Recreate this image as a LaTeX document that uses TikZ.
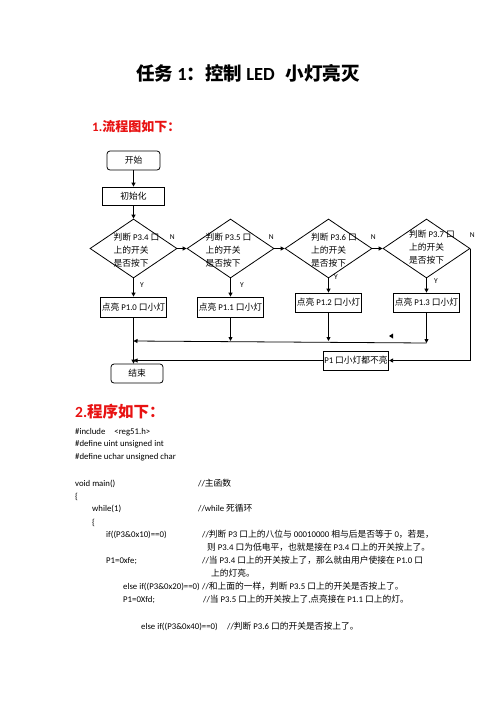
\documentclass[tikz,border=0pt]{standalone}
\usepackage{fontspec}
\setmainfont{Carlito}
\newfontfamily\cjk{Noto Sans CJK SC}
\newfontfamily\latin{Carlito}
% switch to the CJK font for Chinese characters
\XeTeXinterchartokenstate=1
\newXeTeXintercharclass\cjkclass
\newcount\cjkchar
\def\cjkrange#1#2{\cjkchar=#1
  \loop\XeTeXcharclass\cjkchar=\cjkclass
  \ifnum\cjkchar<#2 \advance\cjkchar by 1 \repeat}
\cjkrange{"4E00}{"9FFF}
\cjkrange{"3000}{"303F}
\cjkrange{"FF00}{"FFEF}
\XeTeXinterchartoks 0 \cjkclass = {\cjk}
\XeTeXinterchartoks 4095 \cjkclass = {\cjk}
\XeTeXinterchartoks \cjkclass 0 = {\latin}
\XeTeXinterchartoks \cjkclass 4095 = {\latin}
\usetikzlibrary{shapes.geometric,arrows.meta,calc}
\definecolor{headred}{RGB}{232,18,18}

\begin{document}
\begin{tikzpicture}[x=1pt,y=-1pt,
    fbox/.style={draw, line width=0.8pt, minimum height=19pt, inner sep=1pt, font=\fontsize{8.75}{10}\selectfont},
    rbox/.style={fbox, rounded corners=3pt},
    dia/.style={draw, diamond, line width=0.8pt, minimum width=87pt, minimum height=59pt, inner sep=0pt},
    dtext/.style={align=left, inner sep=0pt, font=\fontsize{8.75}{13}\selectfont},
    lbl/.style={inner sep=0pt, font=\fontsize{7.5}{8}\selectfont},
    arr/.style={-{Triangle[length=4pt,width=4pt]}, line width=0.8pt},
    code/.style={anchor=base west, inner sep=0pt, font=\fontsize{8.75}{10}\selectfont}]
  \useasboundingbox[fill=white] (0,0) rectangle (496,702);

  % Koppen
  \node[anchor=base, inner sep=0pt, font=\bfseries\fontsize{18.5}{20}\selectfont] (title) at (248,80) {任务 1：控制 LED\hspace{11pt}小灯亮灭};
  \node[anchor=base west, inner sep=0pt, text=headred, font=\bfseries\fontsize{13}{15}\selectfont] (head1) at (92,131) {1.流程图如下：};
  \node[anchor=base west, inner sep=0pt, text=headred, font=\bfseries\fontsize{15.5}{17}\selectfont] (head2) at (75,417) {2.程序如下：};

  % Stroomschema: kolom 1
  \node[rbox, minimum width=53pt] (start) at (133.5,160.5) {开始};
  \node[fbox, minimum width=62pt, minimum height=18pt] (init) at (133.5,196) {初始化};
  \node[dia] (d1) at (133.5,248.5) {};
  \node[dtext] (t1) at ($(d1.center)+(3,2)$) {判断 P3.4 口\\上的开关\\是否按下};
  \node[fbox, minimum width=65pt, minimum height=20pt] (b1) at (133.5,307) {点亮 P1.0 口小灯};

  % kolommen 2 t/m 4
  \node[dia] (d2) at (230.5,248.5) {};
  \node[dtext] (t2) at ($(d2.center)+(-2,2)$) {判断 P3.5 口\\上的开关\\是否按下};
  \node[fbox, minimum width=64pt, minimum height=20pt] (b2) at (230.5,307) {点亮 P1.1 口小灯};
  \node[dia] (d3) at (328.5,248.5) {};
  \node[dtext] (t3) at ($(d3.center)+(5.5,2)$) {判断 P3.6 口\\上的开关\\是否按下};
  \node[fbox, minimum width=64pt] (b3) at (328.5,302.5) {点亮 P1.2 口小灯};
  \node[dia] (d4) at (426.5,248.5) {};
  \node[dtext] (t4) at ($(d4.center)+(5.5,-1.5)$) {判断 P3.7 口\\上的开关\\是否按下};
  \node[fbox, minimum width=65pt] (b4) at (426.5,302.5) {点亮 P1.3 口小灯};

  \node[fbox, minimum width=64pt] (none) at (356,360.5) {P1 口小灯都不亮};
  \node[rbox, minimum width=52pt] (stop) at (137,373.5) {结束};

  % N en Y
  \node[lbl] (n1) at ($(d1.east)+(-5,-11.5)$) {N};
  \node[lbl] (n2) at ($(d2.east)+(-3,-11.5)$) {N};
  \node[lbl] (n3) at ($(d3.east)+(1,-11.5)$) {N};
  \node[lbl] (n4) at ($(d4.east)+(2,-13.5)$) {N};
  \node[lbl] (y1) at ($(d1.south)+(8.5,7)$) {Y};
  \node[lbl] (y2) at ($(d2.south)+(11.5,7)$) {Y};
  \node[lbl] (y3) at ($(d3.south)+(7.5,-1)$) {Y};
  \node[lbl] (y4) at ($(d4.south)+(9.5,3)$) {Y};

  % Verbindingen
  \draw[arr] (start) -- (init);
  \draw[arr] (init) -- (d1);
  \draw[arr] (d1) -- (d2);
  \draw[arr] (d2) -- (d3);
  \draw[arr] (d3) -- (d4);
  \draw[arr] (d1) -- (b1);
  \draw[arr] (d2) -- (b2);
  \draw[arr] (d3) -- (b3);
  \draw[arr] (d4) -- (b4);

  % verzamellijn naar het einde
  \coordinate (j1) at (133.5,341);
  \coordinate (j4) at (426.5,343);
  \draw[arr] (b4.south) -- (j4);
  \draw[arr] (j4) -- (j1);
  \draw[arr] (b2.south) -- (b2.south |- j1);
  \draw[arr] (b3.south) -- (b3.south |- j1);
  \draw[arr] (b1.south) -- (b1.south |- stop.north);
  \draw[arr] (d4.east) |- (none.east);
  \draw[arr] (none.west) -- (none.west -| b1.south);
  \fill (393,333.5) -- (389,336) -- (393,338.5) -- cycle;

  % Programma
  \node[code] (c1) at (75,434) {\#include\hspace{9pt}<reg51.h>};
  \node[code] (c2) at (75,446) {\#define uint unsigned int};
  \node[code] (c3) at (75,459) {\#define uchar unsigned char};
  \node[code] (c4) at (75,486) {void main()};
  \node[code] (m4) at (198,486) {//主函数};
  \node[code] (c5) at (75,499) {\{};
  \node[code] (c6) at (92,511) {while(1)};
  \node[code] (m6) at (198,511) {//while 死循环};
  \node[code] (c7) at (92,525) {\{};
  \node[code] (c8) at (106,537) {if((P3\&0x10)==0)};
  \node[code] (m8) at (202,537) {//判断 P3 口上的八位与 00010000 相与后是否等于 0，若是，};
  \node[code] (m9) at (207,550) {则 P3.4 口为低电平，也就是接在 P3.4 口上的开关按上了。};
  \node[code] (c10) at (106,563) {P1=0xfe;};
  \node[code] (m10) at (202,563) {//当 P3.4 口上的开关按上了，那么就由用户使接在 P1.0 口};
  \node[code] (m11) at (211,576) {上的灯亮。};
  \node[code] (c12) at (123,589) {else if((P3\&0x20)==0)};
  \node[code] (m12) at (202,589) {//和上面的一样，判断 P3.5 口上的开关是否按上了。};
  \node[code] (c13) at (123,602) {P1=0Xfd;};
  \node[code] (m13) at (203,602) {//当 P3.5 口上的开关按上了,点亮接在 P1.1 口上的灯。};
  \node[code] (c14) at (141,629) {else if((P3\&0x40)==0)};
  \node[code] (m14) at (227,629) {//判断 P3.6 口的开关是否按上了。};
\end{tikzpicture}
\end{document}
